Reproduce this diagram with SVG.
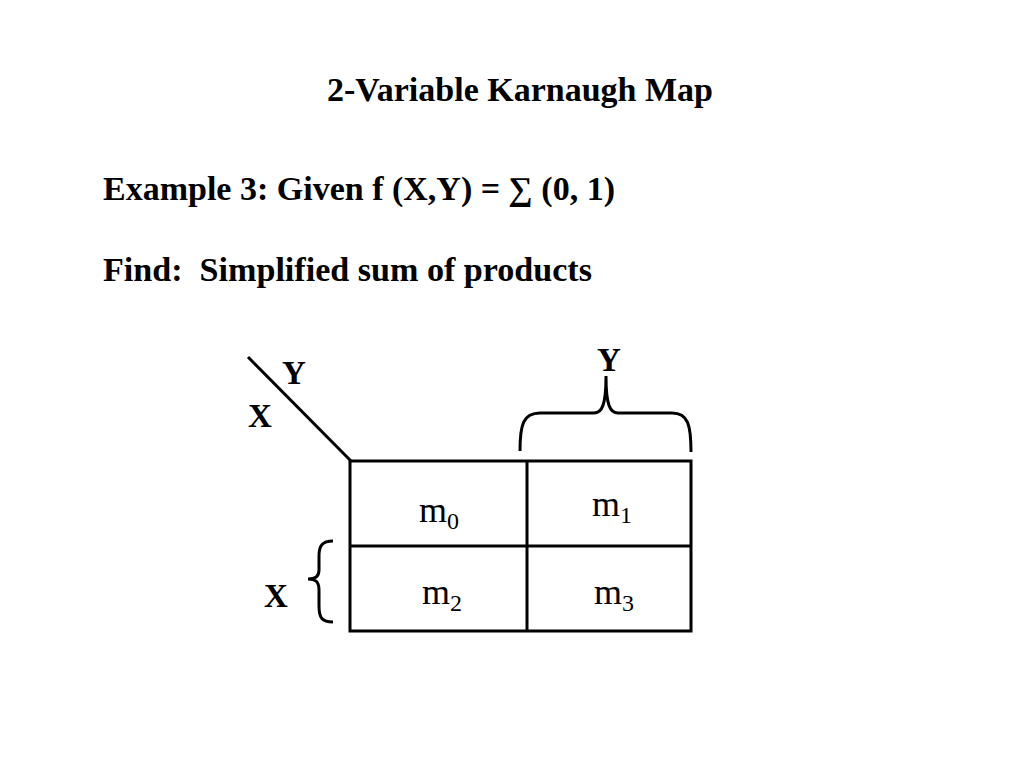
<svg xmlns="http://www.w3.org/2000/svg" width="1024" height="768" viewBox="0 0 1024 768">
<style>
text{font-family:"Liberation Serif","Times New Roman",serif;fill:#000}
.b{font-weight:bold;font-size:33px}
.m{font-size:36px}
.s{font-size:24px}
.ln{stroke:#000;stroke-width:3;fill:none}
</style>
<rect width="1024" height="768" fill="#fff"/>
<g id="texts">
<text class="b" x="327" y="101" textLength="386" lengthAdjust="spacingAndGlyphs">2-Variable Karnaugh Map</text>
<text class="b" x="103" y="200" textLength="512" lengthAdjust="spacingAndGlyphs">Example 3: Given f (X,Y) = ∑ (0, 1)</text>
<text class="b" x="103" y="281" textLength="489" lengthAdjust="spacingAndGlyphs" xml:space="preserve">Find:  Simplified sum of products</text>
</g>
<g id="connectors">
<line class="ln" x1="248" y1="357" x2="351" y2="461"/>
<path class="ln" d="M520 451 C520 425 523 413 540 413 L594 413 C602 413 606 405 606 376 C606 405 610 413 618 413 L672 413 C688 413 691 425 691 452"/>
<path class="ln" d="M333 541 C322 541 319 546 319 556 L319 570 C319 576 316 579 308 579 C316 579 319 582 319 590 L319 606 C319 618 322 622 333 622"/>
</g>
<g id="grid">
<rect class="ln" x="350" y="461" width="341" height="170"/>
<line class="ln" x1="527" y1="461" x2="527" y2="631"/>
<line class="ln" x1="350" y1="546" x2="691" y2="546"/>
</g>
<g id="labels">
<text class="b" x="294" y="384" text-anchor="middle">Y</text>
<text class="b" x="260" y="427" text-anchor="middle">X</text>
<text class="b" x="609" y="371" text-anchor="middle">Y</text>
<text class="b" x="276" y="607" text-anchor="middle">X</text>
</g>
<g id="m0"><text class="m" x="419" y="522">m<tspan class="s" dy="7">0</tspan></text></g>
<g id="m1"><text class="m" x="592" y="516">m<tspan class="s" dy="7">1</tspan></text></g>
<g id="m2"><text class="m" x="422" y="604">m<tspan class="s" dy="7">2</tspan></text></g>
<g id="m3"><text class="m" x="594" y="604">m<tspan class="s" dy="7">3</tspan></text></g>
</svg>
